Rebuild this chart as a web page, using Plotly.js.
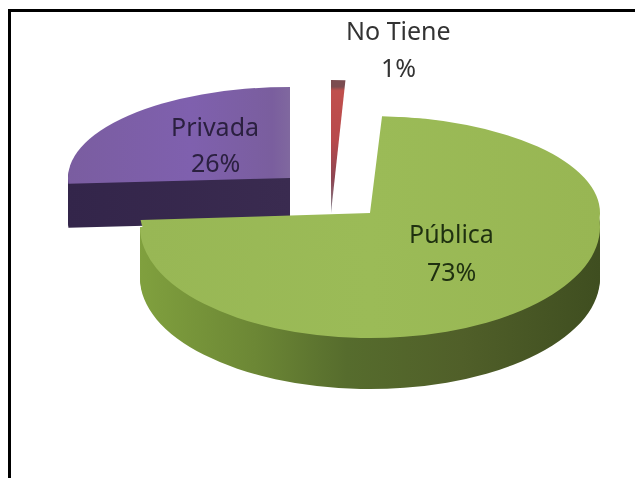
<!DOCTYPE html>
<html>
<head>
<meta charset="utf-8">
<script src="https://cdn.plot.ly/plotly-3.0.1.min.js"></script>
<style>
html,body{margin:0;padding:0;background:#fff;overflow:hidden}
#chart{width:635px;height:478px;filter:blur(0.7px)}
</style>
</head>
<body>
<div id="chart"></div>
<script>
const categories = ['Pública', 'Privada', 'No Tiene'];
const values = [73, 26, 1];

const W = 635, H = 478, MID = H / 2;

// Where each exploded wedge sits on the page and how flat its ellipse is.
const geometry = {
  'Pública':  {cx: 370, r: 230},
  'Privada':  {cx: 290, r: 222},
  'No Tiene': {cx: 331, r: 230}
};

// id -> [direction, [offset, colour] ...]
const gradients = {
  greenTop:  ['h', [0, '#98b755'], [0.5, '#9bbb57'], [1, '#98b653']],
  greenSide: ['h', [0, '#80a03e'], [0.25, '#6c8735'], [0.45, '#566c2d'], [0.7, '#505f29'], [1, '#3f4e20']],
  purpleTop: ['h', [0, '#7a5da0'], [0.55, '#7f60ae'], [0.92, '#7a5e9e'], [1, '#80689f']],
  purpleSide:['h', [0, '#33254a'], [1, '#3a2b50']],
  redTop:    ['v', [0, '#7b4c50'], [0.05, '#7b4c50'], [0.08, '#c0504d'], [0.45, '#b84a4c'], [0.75, '#8c4552'], [1, '#8a8a94']]
};

const traces = [];
const meta = [];

function addLayer(name, start, fill, Y, k) {
  const g = geometry[name];
  const i = categories.indexOf(name);
  traces.push({
    type: 'pie',
    values: [values[i], 100 - values[i]],
    labels: [name, 'resto'],
    sort: false,
    direction: 'clockwise',
    rotation: start,
    textinfo: 'none',
    hoverinfo: 'skip',
    showlegend: false,
    marker: {colors: ['#888888', 'rgba(0,0,0,0)'], line: {width: 0}},
    domain: {
      x: [(g.cx - g.r) / W, (g.cx + g.r) / W],
      y: [(MID - g.r) / H, (MID + g.r) / H]
    }
  });
  meta.push({fill, Y, k});
}

// Back to front: Privada, No Tiene, Pública.
for (let d = 44; d > 0; d -= 2) addLayer('Privada', 266.4, 'purpleSide', 178 + d, 0.41);
addLayer('Privada', 266.4, 'purpleTop', 178, 0.41);
addLayer('No Tiene', 0, 'redTop', 213, 0.578);
for (let d = 51; d > 0; d -= 2) addLayer('Pública', 7.2, 'greenSide', 227 + d, 111 / 230);
addLayer('Pública', 7.2, 'greenTop', 227, 111 / 230);
addLayer('Pública', 3, 'greenTop', 213, 97 / 230);

const labelPlaces = [
  {name: 'Pública', x: 451, y1: 233, y2: 271, color: '#1f3010'},
  {name: 'Privada', x: 215, y1: 126, y2: 162, color: '#2b2040'},
  {name: 'No Tiene', x: 398, y1: 30, y2: 67, color: '#333333'}
];
const annotations = [];
labelPlaces.forEach(p => {
  const v = values[categories.indexOf(p.name)];
  [[p.name, p.y1], [v + '%', p.y2]].forEach(([t, y]) => {
    annotations.push({
      xref: 'paper', yref: 'paper', x: p.x / W, y: 1 - y / H,
      xanchor: 'center', yanchor: 'middle', showarrow: false, text: t,
      font: {family: 'Noto Sans, sans-serif', size: 25, color: p.color}
    });
  });
});

const layout = {
  width: W, height: H,
  margin: {l: 0, r: 0, t: 0, b: 0, pad: 0},
  paper_bgcolor: '#ffffff',
  showlegend: false,
  annotations,
  shapes: [
    {type: 'line', xref: 'paper', yref: 'paper', x0: 9.5 / W, x1: 9.5 / W, y0: 0, y1: 1 - 10 / H, line: {color: '#000', width: 3}},
    {type: 'line', xref: 'paper', yref: 'paper', x0: 8 / W, x1: 1, y0: 1 - 10.5 / H, y1: 1 - 10.5 / H, line: {color: '#000', width: 3}}
  ]
};

Plotly.newPlot('chart', traces, layout, {displayModeBar: false, staticPlot: true}).then(gd => {
  const svg = gd.querySelector('svg.main-svg');
  const NS = 'http://www.w3.org/2000/svg';
  const defs = document.createElementNS(NS, 'defs');
  Object.keys(gradients).forEach(id => {
    const [dir, ...stops] = gradients[id];
    const lg = document.createElementNS(NS, 'linearGradient');
    lg.setAttribute('id', id);
    lg.setAttribute('x1', '0'); lg.setAttribute('y1', '0');
    lg.setAttribute('x2', dir === 'h' ? '1' : '0');
    lg.setAttribute('y2', dir === 'h' ? '0' : '1');
    stops.forEach(([o, c]) => {
      const s = document.createElementNS(NS, 'stop');
      s.setAttribute('offset', o); s.setAttribute('stop-color', c);
      lg.appendChild(s);
    });
    defs.appendChild(lg);
  });
  svg.insertBefore(defs, svg.firstChild);

  gd.querySelectorAll('.pielayer .trace').forEach((g, i) => {
    const m = meta[i];
    g.setAttribute('transform', `translate(0,${m.Y}) scale(1,${m.k}) translate(0,${-MID})`);
    const path = g.querySelector('.slice path.surface');
    path.style.fill = `url(#${m.fill})`;
    path.style.fillOpacity = 1;
  });
});
</script>
</body>
</html>
